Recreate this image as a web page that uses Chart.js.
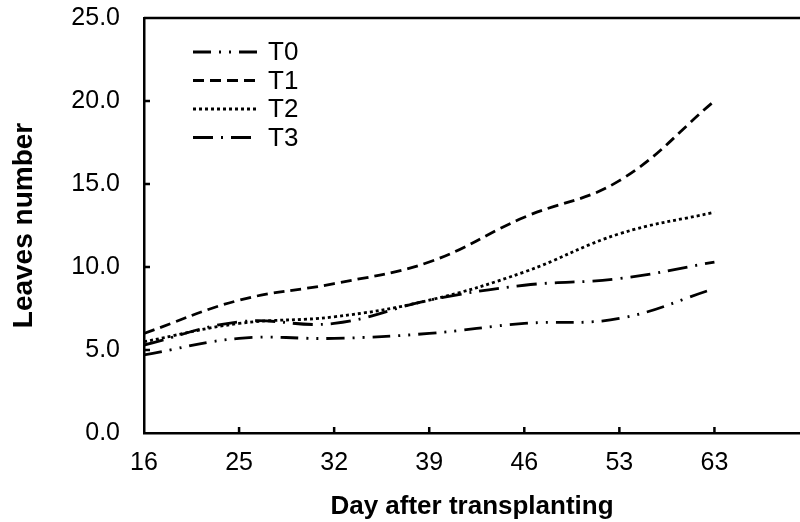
<!DOCTYPE html>
<html>
<head>
<meta charset="utf-8">
<script src="https://cdn.jsdelivr.net/npm/chart.js@4"></script>
<style>
  body { margin: 0; background: #fff; }
  #wrap { width: 800px; height: 522px; }
</style>
</head>
<body>
<div id="wrap"><canvas id="leaves" width="800" height="522"></canvas></div>
<script>
  const days = ['16', '25', '32', '39', '46', '53', '63'];
  const t0 = [4.7, 5.7, 5.7, 6.0, 6.6, 6.9, 8.7];
  const t1 = [6.0, 8.0, 9.0, 10.3, 13.0, 15.2, 20.0];
  const t2 = [5.5, 6.6, 7.0, 8.0, 9.7, 12.0, 13.3];
  const t3 = [5.3, 6.7, 6.6, 8.0, 8.9, 9.3, 10.3];
  const yTicks = [0, 5, 10, 15, 20, 25];

  Chart.defaults.font.family = '"Liberation Sans", Arial, sans-serif';
  Chart.defaults.font.size = 25;
  Chart.defaults.color = '#000';

  const pts = arr => arr.map((v, i) => ({ x: i, y: v }));

  function series(label, values, dash) {
    return {
      label: label,
      data: pts(values),
      borderColor: '#000',
      borderWidth: 2.8,
      borderDash: dash,
      borderCapStyle: 'butt',
      pointRadius: 0,
      tension: 0.4,
      fill: false
    };
  }

  // inward tick marks, top frame line and the legend box
  const frame = {
    id: 'frame',
    afterDraw(chart) {
      const c = chart.ctx;
      const a = chart.chartArea;
      const xs = chart.scales.x, ys = chart.scales.y;
      c.save();
      c.strokeStyle = '#000';
      c.lineWidth = 2.5;
      c.setLineDash([]);
      c.beginPath();
      c.moveTo(a.left, a.top);
      c.lineTo(a.right, a.top);
      for (let i = 1; i < days.length; i++) {
        const px = xs.getPixelForValue(i);
        c.moveTo(px, a.bottom);
        c.lineTo(px, a.bottom - 6);
      }
      yTicks.slice(1, -1).forEach(v => {
        const py = ys.getPixelForValue(v);
        c.moveTo(a.left, py);
        c.lineTo(a.left + 6, py);
      });
      c.stroke();

      c.font = '26px "Liberation Sans", Arial, sans-serif';
      c.textBaseline = 'middle';
      c.textAlign = 'left';
      c.fillStyle = '#000';
      chart.data.datasets.forEach((ds, i) => {
        const ly = a.top + 34 + i * 28.5;
        c.beginPath();
        c.lineWidth = ds.borderWidth;
        c.setLineDash(ds.borderDash);
        c.moveTo(a.left + 49, ly);
        c.lineTo(a.left + 114, ly);
        c.stroke();
        c.fillText(ds.label, a.left + 124, ly + 1);
      });
      c.restore();
    }
  };

  new Chart(document.getElementById('leaves'), {
    type: 'line',
    data: {
      datasets: [
        series('T0', t0, [18, 8, 2, 8, 2, 8]),
        series('T1', t1, [11, 6]),
        series('T2', t2, [3, 3]),
        series('T3', t3, [20, 8, 2, 8])
      ]
    },
    options: {
      responsive: false,
      animation: false,
      layout: { padding: { top: 18, right: 0, left: 0, bottom: 0 } },
      plugins: { legend: { display: false }, tooltip: { enabled: false } },
      scales: {
        x: {
          type: 'linear',
          min: 0,
          max: 6.9,
          grid: { display: false, drawTicks: false },
          border: { display: true, color: '#000', width: 2.5 },
          ticks: {
            stepSize: 1,
            includeBounds: false,
            padding: 15,
            maxRotation: 0,
            autoSkip: false,
            callback: v => (Number.isInteger(v) && days[v] !== undefined) ? days[v] : ''
          },
          title: {
            display: true,
            text: 'Day after transplanting',
            font: { weight: 'bold', size: 26 },
            padding: { top: 4, bottom: 0 }
          },
          afterFit: s => { s.height = 89; s.paddingLeft = 0; s.paddingRight = 0; }
        },
        y: {
          min: 0,
          max: 25,
          grid: { display: false, drawTicks: false },
          border: { display: true, color: '#000', width: 2.5 },
          ticks: {
            stepSize: 5,
            padding: 24,
            callback: v => v.toFixed(1)
          },
          title: {
            display: true,
            text: 'Leaves number',
            font: { weight: 'bold', size: 28 },
            padding: { top: 7, bottom: 4 }
          },
          afterFit: s => { s.width = 144; s.paddingTop = 0; s.paddingBottom = 0; }
        }
      }
    },
    plugins: [frame]
  });
</script>
</body>
</html>
